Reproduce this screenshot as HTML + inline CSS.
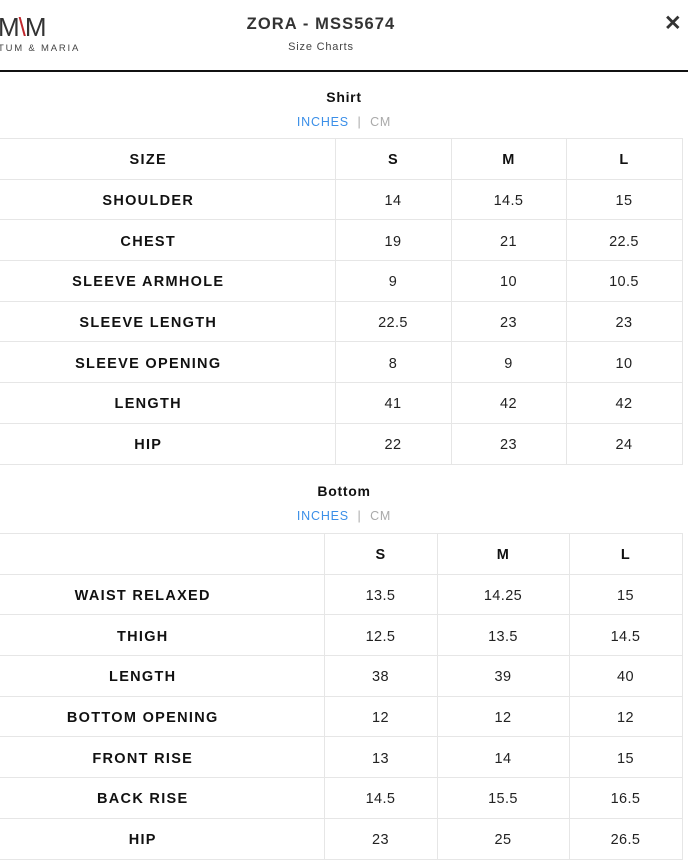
<!DOCTYPE html>
<html><head><meta charset="utf-8"><style>
*{margin:0;padding:0;box-sizing:border-box}
body{width:688px;height:865px;background:#fff;font-family:"Liberation Sans",Arial,sans-serif;color:#111;position:relative;overflow:hidden}
.a{position:absolute}
table{position:absolute;left:0;border-collapse:collapse;table-layout:fixed}
td{border:1px solid #e6e6e6;text-align:center;font-size:14.5px;letter-spacing:0.4px;height:40.7px;color:#222;border-left:none;padding-top:3px}
td:first-child{font-weight:bold;letter-spacing:1.3px;color:#111;padding-right:38px}
tr.h td{font-weight:bold;color:#111}
td:last-child{border-right:1px solid #e6e6e6}
.title{font-weight:bold;font-size:14px;letter-spacing:0.7px;width:688px;text-align:center}
.units{font-size:12.5px;letter-spacing:0.8px;width:688px;text-align:center;color:#3b8fe8}
.units span{color:#aaa}
</style></head><body>
<div class="a" style="left:-2px;top:12px;font-size:26px;color:#333;letter-spacing:-1px">M<span style="color:#c0282d">\</span>M</div>
<div class="a" style="left:-2px;top:43px;font-size:9.5px;letter-spacing:1.8px;color:#444">TUM &amp; MARIA</div>
<div class="a" style="left:0;top:15px;width:642px;text-align:center;font-weight:bold;font-size:16.5px;letter-spacing:1.1px;color:#333">ZORA - MSS5674</div>
<div class="a" style="left:0;top:41px;width:642px;text-align:center;font-size:11px;letter-spacing:0.8px;color:#444">Size Charts</div>
<div class="a" style="left:664px;top:11px;font-size:21px;font-weight:bold;color:#333">✕</div>
<div class="a" style="left:0;top:70px;width:688px;height:1.5px;background:#111"></div>

<div class="a title" style="top:89px">Shirt</div>
<div class="a units" style="top:115px">INCHES <span>&nbsp;|&nbsp; CM</span></div>
<table style="top:138px;width:682px">
<colgroup><col style="width:335px"><col style="width:116px"><col style="width:115px"><col style="width:116px"></colgroup>
<tr class="h"><td>SIZE</td><td>S</td><td>M</td><td>L</td></tr>
<tr><td>SHOULDER</td><td>14</td><td>14.5</td><td>15</td></tr>
<tr><td>CHEST</td><td>19</td><td>21</td><td>22.5</td></tr>
<tr><td>SLEEVE ARMHOLE</td><td>9</td><td>10</td><td>10.5</td></tr>
<tr><td>SLEEVE LENGTH</td><td>22.5</td><td>23</td><td>23</td></tr>
<tr><td>SLEEVE OPENING</td><td>8</td><td>9</td><td>10</td></tr>
<tr><td>LENGTH</td><td>41</td><td>42</td><td>42</td></tr>
<tr><td>HIP</td><td>22</td><td>23</td><td>24</td></tr>
</table>

<div class="a title" style="top:483px">Bottom</div>
<div class="a units" style="top:509px">INCHES <span>&nbsp;|&nbsp; CM</span></div>
<table style="top:533px;width:682px">
<colgroup><col style="width:324px"><col style="width:113px"><col style="width:132px"><col style="width:113px"></colgroup>
<tr class="h"><td></td><td>S</td><td>M</td><td>L</td></tr>
<tr><td>WAIST RELAXED</td><td>13.5</td><td>14.25</td><td>15</td></tr>
<tr><td>THIGH</td><td>12.5</td><td>13.5</td><td>14.5</td></tr>
<tr><td>LENGTH</td><td>38</td><td>39</td><td>40</td></tr>
<tr><td>BOTTOM OPENING</td><td>12</td><td>12</td><td>12</td></tr>
<tr><td>FRONT RISE</td><td>13</td><td>14</td><td>15</td></tr>
<tr><td>BACK RISE</td><td>14.5</td><td>15.5</td><td>16.5</td></tr>
<tr><td>HIP</td><td>23</td><td>25</td><td>26.5</td></tr>
</table>
</body></html>
